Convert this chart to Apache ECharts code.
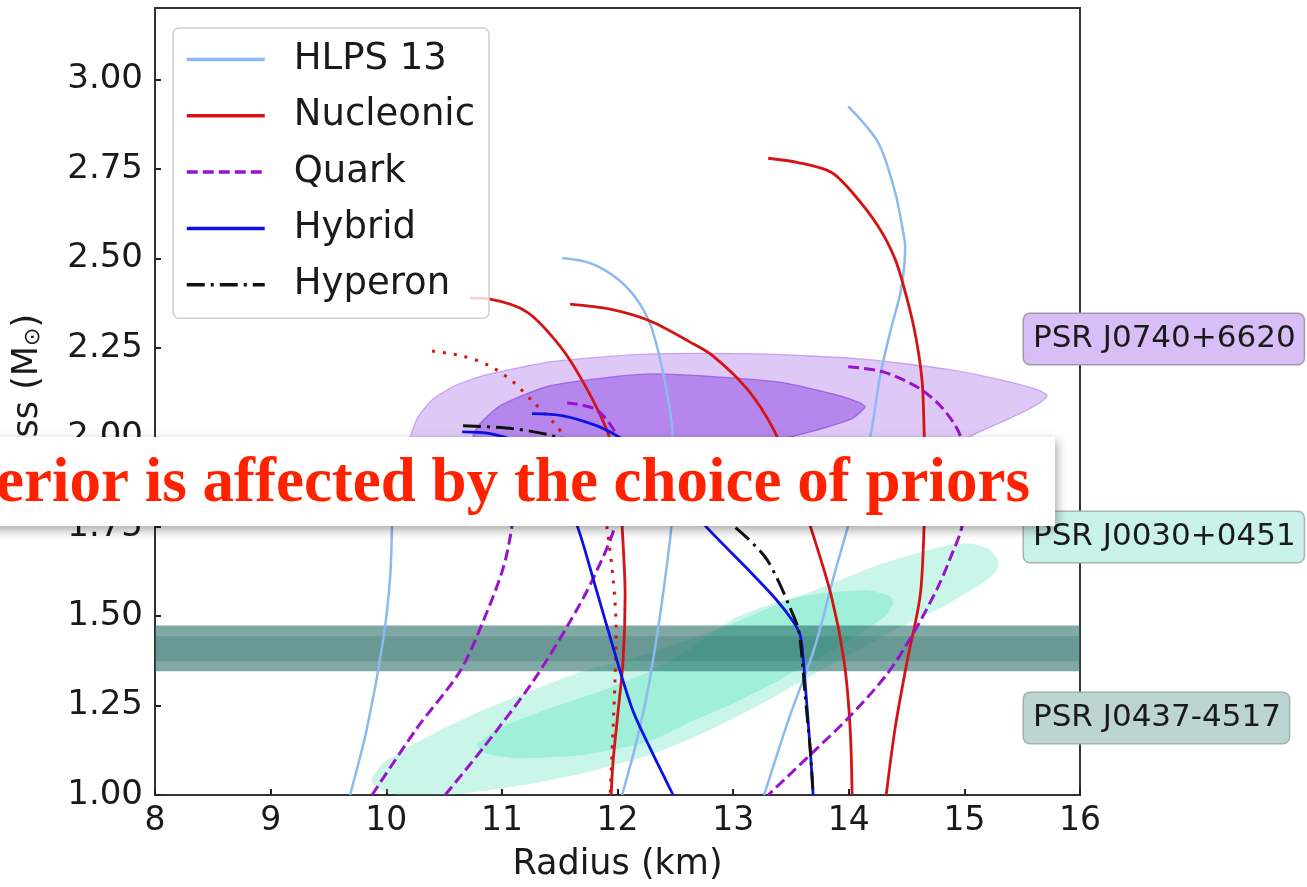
<!DOCTYPE html>
<html>
<head>
<meta charset="utf-8">
<title>Mass-Radius</title>
<script src="https://cdn.jsdelivr.net/npm/echarts@6.0.0/dist/echarts.min.js"></script>
<style>
  html, body { margin: 0; padding: 0; background: #fff; }
  #chart { width: 1307px; height: 887px; }
</style>
</head>
<body>
<div id="chart"></div>
<script>
// legend names
var legendNames = ['HLPS 13', 'Nucleonic', 'Quark', 'Hybrid', 'Hyperon'];

// HLPS 13 band edges (R km, M sun)
var hlpsSoft = [[9.687,1.0],[9.834,1.187],[9.972,1.43],[10.033,1.605],[10.05,1.753],[10.059,1.884],[10.05,1.95]];
var hlpsMid = [[11.521,2.501],[11.763,2.487],[11.979,2.448],[12.152,2.392],[12.282,2.317],[12.368,2.219],[12.438,2.107],[12.481,1.996],[12.49,1.884],[12.464,1.745],[12.412,1.605],[12.351,1.466],[12.265,1.298],[12.161,1.145],[12.04,1.0]];
var hlpsStiff = [[13.995,2.925],[14.254,2.824],[14.401,2.685],[14.471,2.573],[14.488,2.534],[14.453,2.414],[14.358,2.294],[14.272,2.172],[14.194,2.015],[14.099,1.884],[13.995,1.753],[13.865,1.605],[13.753,1.466],[13.666,1.374],[13.484,1.215],[13.268,1.0]];

// nucleonic
var nucleonicA = [[10.725,2.389],[10.898,2.386],[11.218,2.35],[11.503,2.255],[11.702,2.155],[11.893,2.032],[11.971,1.954],[12.022,1.856],[12.04,1.753],[12.066,1.558],[12.048,1.374],[12.005,1.234],[11.962,1.095],[11.945,1.0]];
var nucleonicB = [[11.59,2.372],[11.936,2.358],[12.282,2.325],[12.628,2.266],[12.827,2.227],[13.121,2.135],[13.346,2.024],[13.51,1.898],[13.666,1.753],[13.848,1.558],[13.96,1.374],[14.012,1.187],[14.029,1.0]];
var nucleonicC = [[13.303,2.78],[13.562,2.768],[13.848,2.741],[14.029,2.685],[14.254,2.59],[14.401,2.498],[14.505,2.386],[14.583,2.275],[14.635,2.155],[14.652,2.015],[14.661,1.884],[14.652,1.753],[14.618,1.558],[14.505,1.374],[14.401,1.187],[14.324,1.0]];
var nucleonicDotted = [[10.396,2.241],[10.664,2.227],[10.898,2.199],[11.097,2.155],[11.27,2.099],[11.443,2.043],[11.59,1.982],[11.763,1.898],[11.875,1.815],[11.91,1.745],[11.962,1.605],[11.988,1.466],[11.979,1.326],[11.962,1.187],[11.936,1.0]];

// quark
var quarkA = [[9.877,1.0],[10.266,1.187],[10.638,1.346],[10.837,1.485],[11.01,1.633],[11.088,1.753],[11.114,1.856],[11.106,1.94]];
var quarkB = [[10.509,1.0],[10.837,1.131],[11.27,1.318],[11.59,1.485],[11.789,1.605],[11.979,1.753],[12.031,1.884],[12.022,1.968],[11.962,2.024],[11.806,2.079],[11.564,2.096]];
var quarkC = [[13.995,2.197],[14.298,2.183],[14.618,2.135],[14.817,2.079],[14.964,2.004],[15.016,1.884],[14.981,1.753],[14.877,1.661],[14.765,1.577],[14.548,1.446],[14.324,1.335],[13.995,1.215],[13.666,1.112],[13.303,1.0]];

// hybrid
var hybridA = [[11.261,2.066],[11.529,2.06],[11.824,2.032],[11.997,2.004],[12.196,1.962],[12.455,1.87],[12.758,1.753],[13.121,1.633],[13.363,1.55],[13.519,1.485],[13.58,1.446],[13.606,1.382],[13.631,1.279],[13.666,1.131],[13.692,1.0]];
var hybridB = [[10.656,2.015],[10.898,2.01],[11.157,1.982],[11.374,1.912],[11.521,1.842],[11.651,1.753],[11.789,1.605],[11.997,1.374],[12.135,1.234],[12.282,1.131],[12.481,1.0]];

// hyperon
var hyperon = [[10.664,2.032],[11.097,2.024],[11.443,2.004],[12.022,1.946],[12.542,1.856],[13.0,1.753],[13.268,1.669],[13.381,1.605],[13.484,1.53],[13.562,1.466],[13.588,1.41],[13.623,1.279],[13.666,1.131],[13.692,1.0]];

// pulsar constraints
var j0740Outer = [[10.206,1.996],[10.275,2.057],[10.405,2.107],[10.595,2.144],[10.837,2.172],[11.417,2.211],[12.282,2.233],[13.234,2.233],[14.107,2.219],[14.834,2.191],[15.388,2.155],[15.656,2.13],[15.716,2.116],[15.638,2.093],[15.388,2.052],[15.128,2.015],[14.877,1.974],[14.445,1.934],[13.58,1.907],[12.715,1.895],[11.849,1.895],[10.984,1.912],[10.465,1.946],[10.249,1.968]];
var j0740Inner = [[10.751,2.004],[10.811,2.038],[10.984,2.088],[11.417,2.144],[12.282,2.177],[13.381,2.155],[13.926,2.116],[14.099,2.096],[14.142,2.085],[14.029,2.052],[13.666,2.015],[13.234,1.982],[12.542,1.962],[11.849,1.962],[11.157,1.974],[10.811,1.987]];
var j0030Outer = [[9.877,1.047],[9.972,1.089],[10.206,1.137],[10.552,1.195],[10.837,1.237],[11.131,1.276],[11.702,1.346],[12.282,1.396],[12.715,1.446],[13.061,1.488],[13.407,1.536],[13.744,1.577],[14.289,1.647],[14.834,1.697],[15.05,1.703],[15.206,1.689],[15.292,1.656],[15.275,1.625],[15.128,1.586],[14.834,1.53],[14.471,1.474],[14.107,1.41],[13.744,1.346],[13.381,1.279],[13.009,1.215],[12.645,1.159],[12.282,1.112],[11.702,1.061],[11.131,1.025],[10.552,1.0],[10.119,1.0],[9.946,1.014],[9.877,1.033]];
var j0030Inner = [[10.785,1.139],[10.984,1.187],[11.417,1.243],[11.849,1.29],[12.282,1.346],[12.645,1.41],[13.009,1.494],[13.407,1.541],[13.744,1.563],[14.176,1.572],[14.358,1.555],[14.384,1.536],[14.324,1.502],[13.926,1.418],[13.381,1.318],[13.009,1.257],[12.645,1.206],[12.282,1.151],[11.702,1.112],[11.131,1.103],[10.855,1.117]];
var j0437Outer = [1.346, 1.474];
var j0437Inner = [1.374, 1.444];

var FONT = 'DejaVu Sans';

function curve(name, data, color, width, type, z) {
    return {
        name: name, type: 'line', data: data,
        showSymbol: false, symbol: 'none', smooth: 0.3, clip: true, silent: true,
        z: z || 3,
        lineStyle: {color: color, width: width, type: type || 'solid'},
        itemStyle: {color: color},
        emphasis: {disabled: true}
    };
}

function region(name, pts, fill, stroke, z) {
    return {
        name: name, type: 'custom', data: pts, clip: true, silent: true, z: z,
        encode: {x: 0, y: 1},
        renderItem: function (params, api) {
            if (params.dataIndex !== 0) return null;
            var points = pts.map(function (p) { return api.coord(p); });
            return {
                type: 'polygon',
                shape: {points: points, smooth: 0.2},
                style: {fill: fill, stroke: stroke || null, lineWidth: 1.3}
            };
        }
    };
}

function band(name, lims, fill, z) {
    var pts = [[8, lims[0]], [16, lims[1]]];
    return {
        name: name, type: 'custom', data: pts, clip: true, silent: true, z: z,
        encode: {x: 0, y: 1},
        renderItem: function (params, api) {
            if (params.dataIndex !== 0) return null;
            var a = api.coord(pts[0]), b = api.coord(pts[1]);
            return {
                type: 'rect',
                shape: {x: a[0], y: b[1], width: b[0] - a[0], height: a[1] - b[1]},
                style: {fill: fill}
            };
        }
    };
}

var cBlue = '#8cb9f0', cRed = '#d41414', cPurple = '#9a12cc', cHyb = '#0c12e6', cBlack = '#111111';

var chart = echarts.init(document.getElementById('chart'));
chart.setOption({
    animation: false,
    textStyle: {fontFamily: FONT},
    grid: {left: 155, right: 227, top: 8, bottom: 90, show: true, borderColor: '#333', borderWidth: 2},
    legend: {
        orient: 'vertical', left: 173, top: 28,
        padding: [13, 14, 15, 12], itemGap: 19.3, itemWidth: 78, itemHeight: 36,
        backgroundColor: 'rgba(255,255,255,0.82)', borderColor: '#cfcfcf', borderWidth: 1.5, borderRadius: 6,
        selectedMode: false,
        lineStyle: {width: 3.5},
        itemStyle: {color: 'rgba(0,0,0,0)', borderWidth: 0, opacity: 0},
        textStyle: {fontFamily: FONT, fontSize: 37, color: '#1a1a1a', padding: [0, 0, 0, 24]},
        data: legendNames
    },
    xAxis: {
        type: 'value', min: 8, max: 16, interval: 1,
        name: 'Radius (km)', nameLocation: 'middle', nameGap: 52,
        nameTextStyle: {fontFamily: FONT, fontSize: 35, color: '#1a1a1a'},
        axisLine: {show: true, onZero: false, lineStyle: {color: '#333', width: 2}},
        axisTick: {show: true, inside: true, length: 6, lineStyle: {color: '#222', width: 2}},
        axisLabel: {fontFamily: FONT, fontSize: 33, color: '#1a1a1a', margin: 10},
        splitLine: {show: false}
    },
    yAxis: {
        type: 'value', min: 1, max: 3.2, interval: 0.25,
        name: '{a|Mass (M}{b|⊙}{a|)}', nameLocation: 'middle', nameGap: 110, nameRotate: 90,
        nameTextStyle: {
            rich: {
                a: {fontFamily: FONT, fontSize: 35, color: '#1a1a1a'},
                b: {fontFamily: FONT, fontSize: 22, color: '#1a1a1a', padding: [12, 0, 0, 0]}
            }
        },
        axisLine: {show: true, onZero: false, lineStyle: {color: '#333', width: 2}},
        axisTick: {show: true, inside: true, length: 6, lineStyle: {color: '#222', width: 2}},
        axisLabel: {
            fontFamily: FONT, fontSize: 34, color: '#1a1a1a', margin: 12, showMaxLabel: false,
            formatter: function (v) { return Math.abs(v * 4 - Math.round(v * 4)) < 1e-6 ? v.toFixed(2) : ''; }
        },
        splitLine: {show: false}
    },
    series: [
        region('J0030 outer', j0030Outer, 'rgba(64,224,180,0.28)', null, 1),
        region('J0030 inner', j0030Inner, 'rgba(64,224,180,0.30)', null, 1),
        band('J0437 outer', j0437Outer, 'rgba(35,105,100,0.577)', 1.5),
        band('J0437 inner', j0437Inner, 'rgba(35,105,100,0.25)', 1.5),
        region('J0740 outer', j0740Outer, 'rgba(160,100,230,0.35)', 'rgba(170,110,235,0.55)', 1),
        region('J0740 inner', j0740Inner, 'rgba(140,70,225,0.5)', 'rgba(130,60,220,0.6)', 1),
        curve('HLPS 13', hlpsSoft, cBlue, 2.5),
        curve('HLPS 13', hlpsMid, cBlue, 2.5),
        curve('HLPS 13', hlpsStiff, cBlue, 2.5),
        curve('Nucleonic', nucleonicA, cRed, 2.8),
        curve('Nucleonic', nucleonicB, cRed, 2.8),
        curve('Nucleonic', nucleonicC, cRed, 2.8),
        curve('Nucleonic (dotted)', nucleonicDotted, cRed, 3, [3, 8]),
        curve('Quark', quarkA, cPurple, 3, [11, 5]),
        curve('Quark', quarkB, cPurple, 3, [11, 5]),
        curve('Quark', quarkC, cPurple, 3, [11, 5]),
        curve('Hybrid', hybridA, cHyb, 2.8),
        curve('Hybrid', hybridB, cHyb, 2.8),
        curve('Hyperon', hyperon, cBlack, 3, [18, 6, 3, 6], 4)
    ],
    graphic: [
        {
            type: 'text', x: 1024, y: 314, z: 50,
            style: {text: 'PSR J0740+6620', font: '31px "DejaVu Sans"', fill: '#1a1a1a',
                backgroundColor: '#d9bdf6', borderColor: '#a09aa8', borderWidth: 1.5, borderRadius: 6,
                padding: [8, 8, 8, 9], lineHeight: 34}
        },
        {
            type: 'text', x: 1024, y: 512, z: 50,
            style: {text: 'PSR J0030+0451', font: '31px "DejaVu Sans"', fill: '#1a1a1a',
                backgroundColor: '#c9f3ea', borderColor: '#a7b5b1', borderWidth: 1.5, borderRadius: 6,
                padding: [8, 8, 8, 9], lineHeight: 34}
        },
        {
            type: 'text', x: 1024, y: 693, z: 50,
            style: {text: 'PSR J0437-4517', font: '31px "DejaVu Sans"', fill: '#1a1a1a',
                backgroundColor: '#bcd5d3', borderColor: '#9fb2b0', borderWidth: 1.5, borderRadius: 6,
                padding: [8, 8, 8, 9], lineHeight: 34}
        },
        {
            type: 'rect', z: 100,
            shape: {x: -10, y: 437, width: 1065, height: 89},
            style: {fill: '#ffffff', shadowBlur: 10, shadowOffsetX: 2, shadowOffsetY: 4, shadowColor: 'rgba(0,0,0,0.35)'}
        },
        {
            type: 'text', x: 1030, y: 485, z: 101,
            style: {text: 'Posterior is affected by the choice of priors',
                font: 'bold 63px "Liberation Serif"', fill: '#ff2200',
                align: 'right', verticalAlign: 'middle', textAlign: 'right', textVerticalAlign: 'middle'}
        }
    ]
});
</script>
</body>
</html>
